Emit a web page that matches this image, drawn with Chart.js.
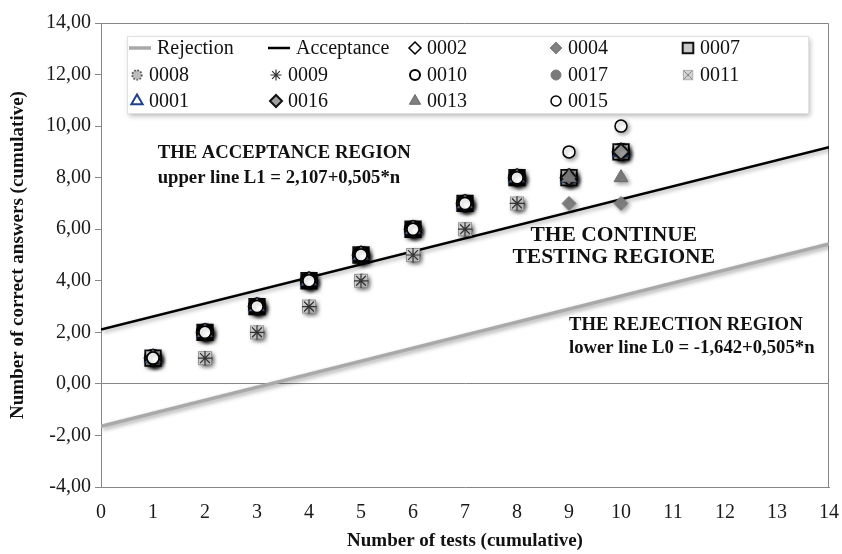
<!DOCTYPE html>
<html>
<head>
<meta charset="utf-8">
<script src="https://cdn.jsdelivr.net/npm/chart.js@4.4.1/dist/chart.umd.js"></script>
<style>
  html, body { margin: 0; padding: 0; background: #fff; }
  #wrap { width: 842px; height: 554px; }
</style>
</head>
<body>
<div id="wrap"><canvas id="chart"></canvas></div>
<script>
// number of tests (x) for the learner series
const tests = [1, 2, 3, 4, 5, 6, 7, 8, 9, 10]

// boundary lines, end points read at n = 0 and n = 14
const lineEnds = [0, 14]
const rejection = [-1.642, 5.428]
const acceptance = [2.107, 9.177]

// cumulative correct answers per learner
const s0002 = [1, 2, 3, 4, 5, 6, 7, 8, 8, 9]
const s0004 = [1, 2, 3, 4, 5, 6, 7, 7, 7, 7]
const s0007 = [1, 2, 3, 4, 5, 6, 7, 8, 8, 9]
const s0008 = [1, 1, 2, 3, 4, 5, 6, 7, 8, 9]
const s0009 = [1, 1, 2, 3, 4, 5, 6, 7, 8, 9]
const s0010 = [1, 2, 3, 4, 5, 6, 7, 8, 8, 9]
const s0017 = [1, 2, 3, 4, 5, 6, 7, 8, 8, 9]
const s0011 = [1, 1, 2, 3, 4, 5, 6, 7, 8, 9]
const s0001 = [1, 2, 3, 4, 5, 6, 7, 8, 8, 9]
const s0016 = [1, 2, 3, 4, 5, 6, 7, 8, 8, 9]
const s0013 = [1, 2, 3, 4, 5, 6, 7, 8, 8, 8]
const s0015 = [1, 2, 3, 4, 5, 6, 7, 8, 9, 10]

const serif = '"Liberation Serif", "Times New Roman", serif'

const toPoints = (xs, ys) => xs.map((x, i) => ({ x, y: ys[i] }))

function marker(size, draw) {
  const c = document.createElement("canvas")
  c.width = size
  c.height = size
  draw(c.getContext("2d"), size)
  return c
}

const boxCross = marker(16, (ctx, s) => {
  ctx.fillStyle = "#d4d4d4"
  ctx.strokeStyle = "#9a9a9a"
  ctx.lineWidth = 1
  ctx.fillRect(1, 1, s - 2, s - 2)
  ctx.strokeRect(1.5, 1.5, s - 3, s - 3)
  ctx.strokeStyle = "#6e6e6e"
  ctx.beginPath()
  ctx.moveTo(3, 3); ctx.lineTo(s - 3, s - 3)
  ctx.moveTo(s - 3, 3); ctx.lineTo(3, s - 3)
  ctx.stroke()
})

const dottedCircle = marker(15, (ctx, s) => {
  ctx.fillStyle = "#bdbdbd"
  ctx.strokeStyle = "#3a3a3a"
  ctx.lineWidth = 2
  ctx.setLineDash([2, 2])
  ctx.beginPath()
  ctx.arc(s / 2, s / 2, s / 2 - 1.5, 0, Math.PI * 2)
  ctx.fill()
  ctx.stroke()
})

function series(label, values, style) {
  return Object.assign({ label, data: toPoints(tests, values), showLine: false }, style)
}

const datasets = [
  { label: "Rejection", data: toPoints(lineEnds, rejection), showLine: true, borderColor: "#a9a9a9", borderWidth: 3.5, pointRadius: 0 },
  { label: "Acceptance", data: toPoints(lineEnds, acceptance), showLine: true, borderColor: "#000", borderWidth: 2.5, pointRadius: 0 },
  series("0002", s0002, { pointStyle: "rectRot", pointRadius: 8, backgroundColor: "#fff", borderColor: "#000", borderWidth: 1.5 }),
  series("0004", s0004, { pointStyle: "rectRot", pointRadius: 7, backgroundColor: "#808080", borderColor: "#808080", borderWidth: 1 }),
  series("0007", s0007, { pointStyle: "rect", pointRadius: 10.5, backgroundColor: "#c8c8c8", borderColor: "#111", borderWidth: 2.5 }),
  series("0008", s0008, { pointStyle: dottedCircle }),
  series("0009", s0009, { pointStyle: "star", pointRadius: 7, backgroundColor: "#333", borderColor: "#333", borderWidth: 1.2 }),
  series("0010", s0010, { pointStyle: "circle", pointRadius: 7.5, backgroundColor: "#fff", borderColor: "#000", borderWidth: 3.5 }),
  series("0017", s0017, { pointStyle: "circle", pointRadius: 6, backgroundColor: "#7a7a7a", borderColor: "#7a7a7a", borderWidth: 1 }),
  series("0011", s0011, { pointStyle: boxCross }),
  series("0001", s0001, { pointStyle: "triangle", pointRadius: 8, backgroundColor: "#fff", borderColor: "#1f3f8f", borderWidth: 2 }),
  series("0016", s0016, { pointStyle: "rectRot", pointRadius: 8, backgroundColor: "#a0a0a0", borderColor: "#111", borderWidth: 2 }),
  series("0013", s0013, { pointStyle: "triangle", pointRadius: 8, backgroundColor: "#7f7f7f", borderColor: "#6a6a6a", borderWidth: 1 }),
  series("0015", s0015, { pointStyle: "circle", pointRadius: 6, backgroundColor: "#fff", borderColor: "#000", borderWidth: 1.5 })
]
// later series sit on top, like the original spreadsheet chart
datasets.forEach((ds, i) => { ds.order = datasets.length - i })
// the asterisk shows through the grey box in the original
datasets[6].order = datasets[9].order - 0.5

const notes = [
  { x: 1.09, y: 8.96, size: 18.7, align: "left", lines: ["THE ACCEPTANCE REGION", "upper line L1 = 2,107+0,505*n"], gap: 25 },
  { x: 9.86, y: 5.74, size: 21.5, align: "center", lines: ["THE CONTINUE", "TESTING REGIONE"], gap: 22 },
  { x: 9.0, y: 2.29, size: 18.7, align: "left", lines: ["THE REJECTION REGION", "lower line L0 = -1,642+0,505*n"], gap: 23 }
]

const legendCols = [137, 276, 415, 556, 688]
const legendRows = [48, 75, 101]
const legendSizes = { circle: 5, rect: 7.5, rectRot: 6, triangle: 6.5, star: 5.5 }

const shadows = {
  id: "shadows",
  beforeDatasetsDraw(chart) {
    const ctx = chart.ctx
    ctx.save()
    ctx.shadowColor = "rgba(0, 0, 0, 0.35)"
    ctx.shadowBlur = 4
    ctx.shadowOffsetX = 2
    ctx.shadowOffsetY = 2
  },
  afterDatasetsDraw(chart) {
    chart.ctx.restore()
  }
}

const frame = {
  id: "frame",
  beforeDatasetsDraw(chart) {
    const { ctx, chartArea: a } = chart
    ctx.save()
    ctx.strokeStyle = "#868686"
    ctx.lineWidth = 1
    ctx.beginPath()
    ctx.moveTo(a.left, a.top + 0.5)
    ctx.lineTo(a.right - 0.5, a.top + 0.5)
    ctx.lineTo(a.right - 0.5, a.bottom)
    ctx.stroke()
    ctx.restore()
  }
}

const annotations = {
  id: "annotations",
  afterDatasetsDraw(chart) {
    const { ctx, scales } = chart
    ctx.save()
    ctx.fillStyle = "#111"
    ctx.textBaseline = "middle"
    notes.forEach((note) => {
      ctx.font = `bold ${note.size}px ${serif}`
      ctx.textAlign = note.align
      const px = scales.x.getPixelForValue(note.x)
      const py = scales.y.getPixelForValue(note.y)
      note.lines.forEach((line, i) => ctx.fillText(line, px, py + i * note.gap))
    })
    ctx.restore()
  }
}

const gridLegend = {
  id: "gridLegend",
  afterDatasetsDraw(chart) {
    const ctx = chart.ctx
    ctx.save()
    ctx.shadowColor = "rgba(0, 0, 0, 0.28)"
    ctx.shadowBlur = 5
    ctx.shadowOffsetX = 2
    ctx.shadowOffsetY = 3
    ctx.fillStyle = "#fff"
    ctx.fillRect(127, 36, 681, 77)
    ctx.restore()

    ctx.save()
    ctx.strokeStyle = "#e2e2e2"
    ctx.strokeRect(127.5, 36.5, 681, 77)
    ctx.font = `20px ${serif}`
    ctx.textBaseline = "middle"
    ctx.textAlign = "left"
    chart.data.datasets.forEach((ds, i) => {
      const cx = legendCols[i % legendCols.length]
      const cy = legendRows[Math.floor(i / legendCols.length)]
      let textX = cx + 12
      if (ds.showLine) {
        ctx.strokeStyle = ds.borderColor
        ctx.lineWidth = ds.borderWidth
        ctx.beginPath()
        ctx.moveTo(cx - 8, cy)
        ctx.lineTo(cx + 14, cy)
        ctx.stroke()
        textX = cx + 20
      } else if (typeof ds.pointStyle !== "string") {
        ctx.drawImage(ds.pointStyle, cx - 6, cy - 6, 12, 12)
      } else {
        ctx.fillStyle = ds.backgroundColor
        ctx.strokeStyle = ds.borderColor
        ctx.lineWidth = Math.min(ds.borderWidth, 2)
        Chart.helpers.drawPoint(ctx, {
          pointStyle: ds.pointStyle,
          radius: legendSizes[ds.pointStyle],
          rotation: 0,
          borderWidth: ctx.lineWidth
        }, cx, cy)
      }
      ctx.fillStyle = "#111"
      ctx.fillText(ds.label, textX, cy + 1)
    })
    ctx.restore()
  }
}

new Chart(document.getElementById("chart"), {
  type: "scatter",
  data: { datasets },
  plugins: [frame, shadows, annotations, gridLegend],
  options: {
    responsive: true,
    maintainAspectRatio: false,
    devicePixelRatio: 1,
    animation: false,
    layout: { padding: { top: 23, right: 11, left: 0, bottom: 0 } },
    plugins: { legend: { display: false }, tooltip: { enabled: false } },
    elements: { point: { hoverRadius: 7 } },
    scales: {
      x: {
        type: "linear",
        min: 0,
        max: 14,
        afterFit: (scale) => {
          scale.height = 67
          scale.paddingLeft = 0
          scale.paddingRight = 0
        },
        ticks: { stepSize: 1, padding: 14, color: "#1a1a1a", font: { family: serif, size: 20 } },
        grid: { color: "rgba(0,0,0,0)", drawTicks: false },
        border: { color: "#868686", width: 1 },
        title: {
          display: true,
          text: "Number of tests (cumulative)",
          color: "#111",
          font: { family: serif, size: 19, weight: "bold" },
          padding: { top: 0, bottom: 2 }
        }
      },
      y: {
        type: "linear",
        min: -4,
        max: 14,
        afterFit: (scale) => { scale.width = 101 },
        ticks: {
          stepSize: 2,
          padding: 4,
          color: "#1a1a1a",
          font: { family: serif, size: 20 },
          callback: (v) => v.toFixed(2).replace(".", ",")
        },
        grid: {
          color: (c) => (c.tick && c.tick.value === 0 ? "#868686" : "rgba(0,0,0,0)"),
          tickColor: "#868686",
          tickLength: 6
        },
        border: { color: "#868686", width: 1 },
        title: {
          display: true,
          text: "Number of correct answers (cumulative)",
          color: "#111",
          font: { family: serif, size: 19, weight: "bold" },
          padding: { top: 7, bottom: 0 }
        }
      }
    }
  }
})
</script>
</body>
</html>
